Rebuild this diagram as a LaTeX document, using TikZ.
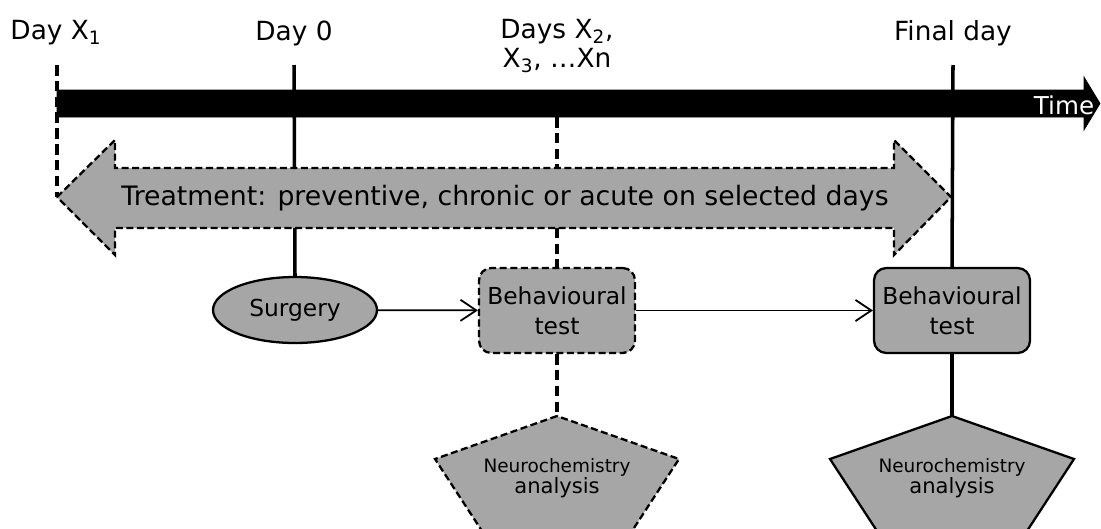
\documentclass[tikz,border=0pt]{standalone}
\usepackage{fontspec}
\setmainfont{DejaVu Sans}
\usepackage{xcolor}
\usetikzlibrary{shapes.geometric,arrows.meta}
\definecolor{boxgray}{HTML}{A6A6A6}

\begin{document}
\begin{tikzpicture}[x=0.02cm, y=-0.02cm,
  daylabel/.style={font=\fontsize{15}{17}\selectfont, align=center},
  dayline/.style={line width=2pt},
  daydash/.style={line width=1.9pt, dash pattern=on 6pt off 3pt},
  greyfill/.style={fill=boxgray, line width=1.3pt},
  thindash/.style={dash pattern=on 4pt off 2pt},
  testbox/.style={draw, greyfill, rounded corners=7pt, minimum width=3.12cm, minimum height=1.7cm,
    align=center, inner sep=1pt, font=\fontsize{13.3}{17}\selectfont},
  flow/.style={line width=1pt, -{Straight Barb[length=9pt, width=12pt, line width=1pt]}}]
\useasboundingbox (0,0) rectangle (1101,528);

% time axis
\draw[fill=black] (57,90) -- (1084,90) -- (1084,77) -- (1100,103.5) -- (1084,130) -- (1084,117) -- (57,117) -- cycle;
\node[text=white, font=\fontsize{14}{16}\selectfont] (time) at (1064,105) {Time};

% day labels
\node[daylabel] (dX1) at (56,33) {Day X\textsubscript{1}};
\node[daylabel] (d0) at (294,33) {Day 0};
\node[daylabel] (dX2) at (557,46) {Days X\textsubscript{2},\\X\textsubscript{3}, …Xn};
\node[daylabel] (dfin) at (953,33) {Final day};
\coordinate (tX1) at (57,65);
\coordinate (t0) at (294,65);
\coordinate (tX2) at (557,117);
\coordinate (tfin) at (953,65);
\coordinate (tipL) at (57,197);

% events
\node[draw, ellipse, greyfill, minimum width=3.28cm, minimum height=1.32cm,
  font=\fontsize{13.3}{17}\selectfont] (surg) at (295,310) {Surgery};
\node[testbox, thindash] (bt1) at (557,310.5) {Behavioural\\test};
\node[testbox] (bt2) at (952,310.5) {Behavioural\\test};

\draw[daydash] (tX1) -- (tipL);
\draw[dayline] (t0) -- (surg.north);
\draw[daydash] (tX2) -- (bt1.north);

% treatment arrow
\draw[greyfill, thindash] (tipL) -- (115,140) -- (115,168) -- (894,168) -- (894,140) -- (951,197)
  -- (894,255) -- (894,228) -- (115,228) -- (115,255) -- cycle;
\node[font=\fontsize{15.2}{17}\selectfont] (treat) at (505,198) {Treatment: preventive, chronic or acute on selected days};

\draw[dayline] (tfin) -- (bt2.north);

% neurochemistry
\foreach \x/\nm/\sty in {557/neuroA/thindash, 952/neuroB/solid}{
  \coordinate (\nm top) at (\x,416);
  \draw[greyfill, \sty] (\nm top) -- (\x-122,459) -- (\x-75,531) -- (\x+75,531) -- (\x+122,459) -- cycle;
  \node[align=center, inner sep=0pt] (\nm) at (\x,478)
    {{\fontsize{10.5}{12}\selectfont Neurochemistry}\\[0pt]{\fontsize{12}{14}\selectfont analysis}};
}
\draw[daydash] (bt1.south) -- (neuroAtop);
\draw[dayline] (bt2.south) -- (neuroBtop);

\draw[flow] (surg) -- (bt1);
\draw[flow] (bt1) -- (bt2);
\end{tikzpicture}
\end{document}
